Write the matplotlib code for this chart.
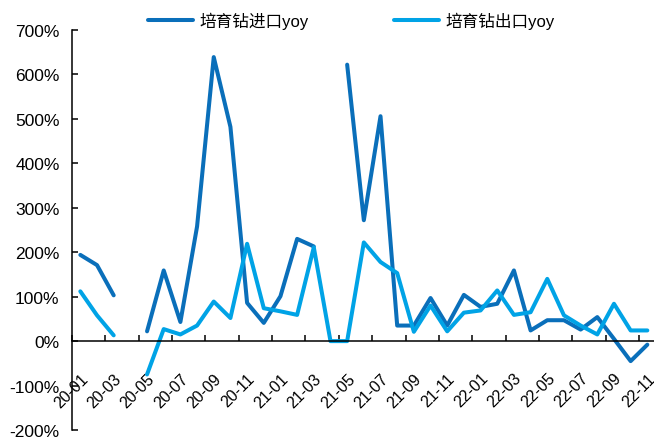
"""
培育钻进出口同比 (2020-01 ~ 2022-11)
"""
import numpy as np
import matplotlib
matplotlib.use('Agg')
import matplotlib.pyplot as plt
from matplotlib.ticker import FuncFormatter, MultipleLocator

plt.rcParams['font.family'] = ['Liberation Sans', 'Noto Sans CJK SC', 'DejaVu Sans']

nan = np.nan
months = ['20-01', '20-02', '20-03', '20-04', '20-05', '20-06', '20-07', '20-08', '20-09', '20-10',
          '20-11', '20-12', '21-01', '21-02', '21-03', '21-04', '21-05', '21-06', '21-07', '21-08',
          '21-09', '21-10', '21-11', '21-12', '22-01', '22-02', '22-03', '22-04', '22-05', '22-06',
          '22-07', '22-08', '22-09', '22-10', '22-11']

# yoy, %
import_yoy = [194, 171, 103, nan, 22, 159, 43, 258, 639, 482,
              86, 41, 101, 230, 213, nan, 622, 272, 506, 35,
              35, 97, 35, 104, 77, 84, 159, 24, 47, 47,
              26, 54, 5, -45, -8]
export_yoy = [112, 58, 13, nan, -75, 27, 15, 35, 89, 52,
              219, 74, 67, 59, 211, 0, 0, 222, 178, 153,
              21, 80, 22, 64, 69, 114, 59, 65, 140, 58,
              35, 15, 84, 24, 24]

names = ['培育钻进口yoy', '培育钻出口yoy']
colors = ['#0A6FBA', '#00A3E6']

fig = plt.figure(figsize=(6.54, 4.39), dpi=100)
ax = fig.add_axes([72/654, 8/439, 582/654, 400/439])

x = np.arange(len(months))
ax.plot(x, import_yoy, color=colors[0], lw=2.9, label=names[0], solid_capstyle='round')
ax.plot(x, export_yoy, color=colors[1], lw=2.9, label=names[1], solid_capstyle='round')

ax.set_xlim(-0.5, 34.4)
ax.set_ylim(-200, 700)

# spines: only left, and the x axis at zero
ax.spines['top'].set_visible(False)
ax.spines['right'].set_visible(False)
ax.spines['bottom'].set_position(('data', 0))
ax.spines['left'].set_linewidth(1.1)
ax.spines['bottom'].set_linewidth(1.1)

ax.yaxis.set_major_locator(MultipleLocator(100))
ax.yaxis.set_major_formatter(FuncFormatter(lambda v, p: '%d%%' % v))
ax.tick_params(axis='y', direction='in', length=4, width=1.1, pad=9, labelsize=12.5)

# labels at every second month, tick marks between categories
ax.set_xticks(x[::2])
ax.set_xticklabels(months[::2], rotation=45, ha='right', va='top', rotation_mode='anchor')
ax.set_xticks(np.arange(-0.5, len(months), 2), minor=True)
ax.tick_params(axis='x', which='major', length=0, pad=21, labelsize=11.5)
ax.tick_params(axis='x', which='minor', direction='in', length=4, width=1.1)

ax.legend(loc='lower center', bbox_to_anchor=(0.48, 0.965), ncol=2, frameon=False,
          fontsize=12, handlelength=2.7, columnspacing=5.1, handletextpad=0.4)

fig.savefig('out.png', dpi=100)
